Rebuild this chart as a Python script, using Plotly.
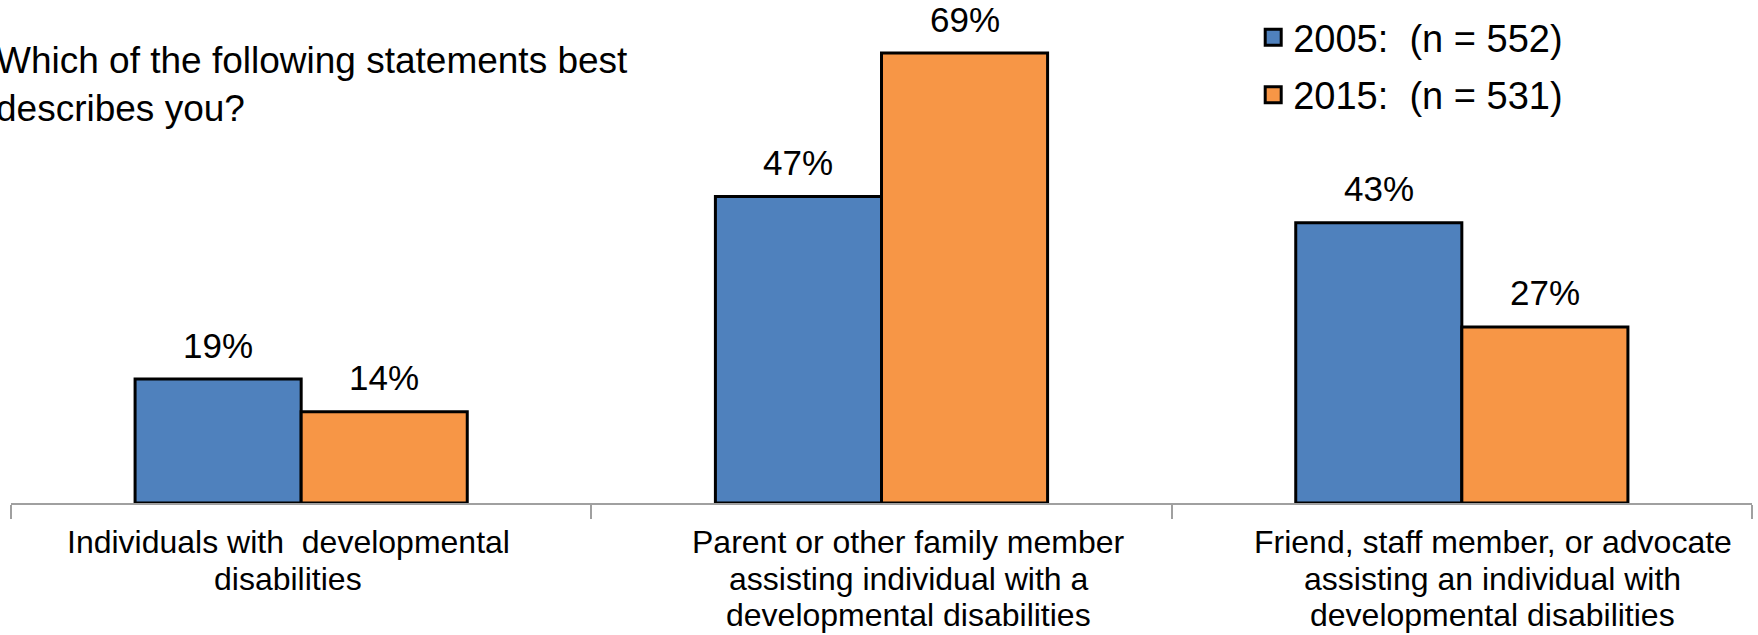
import plotly.graph_objects as go

categories = [
    "Individuals with\u00a0\u00a0developmental<br>disabilities",
    "Parent or other family member<br>assisting individual with a<br>developmental disabilities",
    "Friend, staff member, or advocate<br>assisting an individual with<br>developmental disabilities",
]
series_names = ["2005:\u00a0\u00a0(n = 552)", "2015:\u00a0\u00a0(n = 531)"]
values_2005 = [19, 47, 43]
values_2015 = [14, 69, 27]
colors = ["#4F81BD", "#F79646"]

FONT = "Liberation Sans, Arial, sans-serif"
W, H = 1758, 635
ML, MR, MT, MB = 11, 6, 10, 132
BARGAP = 0.4276
PX_PER_UNIT = 6.52
LABEL_XSHIFT = [-13, 27, 31]   # category label horizontal offsets (px), as in the reference
LABEL_FIRST_LINE = 39          # px below the axis to centre of first label line
LABEL_LINE_STEP = 36.5         # px between label lines
plot_w = W - ML - MR
plot_h = H - MT - MB
ymax = plot_h / PX_PER_UNIT
bar_w = plot_w / len(categories) * (1 - BARGAP) / 2

fig = go.Figure()
annotations = []
all_series = [values_2005, values_2015]
for i, (name, vals, col) in enumerate(zip(series_names, all_series, colors)):
    fig.add_trace(go.Bar(
        x=categories, y=vals, name=name, showlegend=False,
        marker=dict(color=col, line=dict(color="#000000", width=3)),
        cliponaxis=False,
    ))
    for c, v in zip(categories, vals):
        annotations.append(dict(
            x=c, y=v, xref="x", yref="y", text=f"{v}%", showarrow=False,
            xshift=(i - 0.5) * bar_w, yshift=34, yanchor="middle",
            font=dict(size=35, color="#000000", family=FONT),
        ))
for i, (name, col) in enumerate(zip(series_names, colors)):
    fig.add_trace(go.Scatter(
        x=[None], y=[None], mode="markers", name=name, legendgroup=f"g{i}",
        marker=dict(symbol="square", size=20, color=col, line=dict(color="#000000", width=3)),
    ))

# category labels (drawn on the x axis scale), one annotation per line for tight spacing
for c, dx in zip(categories, LABEL_XSHIFT):
    for k, line in enumerate(c.split("<br>")):
        annotations.append(dict(
            x=c, y=0, xref="x", yref="y", text=line, showarrow=False,
            xanchor="center", yanchor="middle", xshift=dx,
            yshift=-(LABEL_FIRST_LINE + k * LABEL_LINE_STEP),
            font=dict(size=32, color="#000000", family=FONT),
        ))

annotations.append(dict(
    text="Which of the following statements best<br>describes you?",
    xref="paper", yref="paper", x=-0.010, y=0.848, xanchor="left", yanchor="middle",
    align="left", showarrow=False, font=dict(size=37, color="#000000", family=FONT),
))

fig.update_layout(
    width=W, height=H,
    margin=dict(l=ML, r=MR, t=MT, b=MB),
    paper_bgcolor="white", plot_bgcolor="white",
    barmode="group", bargap=BARGAP, bargroupgap=0,
    font=dict(family=FONT, color="#000000"),
    showlegend=True,
    legend=dict(
        x=0.7135, y=1.008, xanchor="left", yanchor="top",
        font=dict(size=38, color="#000000", family=FONT),
        traceorder="grouped", tracegroupgap=5,
        bgcolor="rgba(0,0,0,0)",
    ),
    xaxis=dict(
        type="category", tickson="boundaries", ticks="outside", ticklen=14,
        tickwidth=1.5, tickcolor="#A0A0A0", showline=True, linecolor="#A0A0A0",
        linewidth=1.5, showgrid=False, automargin=False, showticklabels=False,
    ),
    yaxis=dict(range=[0, ymax], visible=False, showgrid=False, zeroline=False, automargin=False),
    annotations=annotations,
)

fig.write_html(
    "out.html",
    config={"displayModeBar": False},
    post_script="document.body.style.margin='0px';document.body.style.overflow='hidden';",
)
